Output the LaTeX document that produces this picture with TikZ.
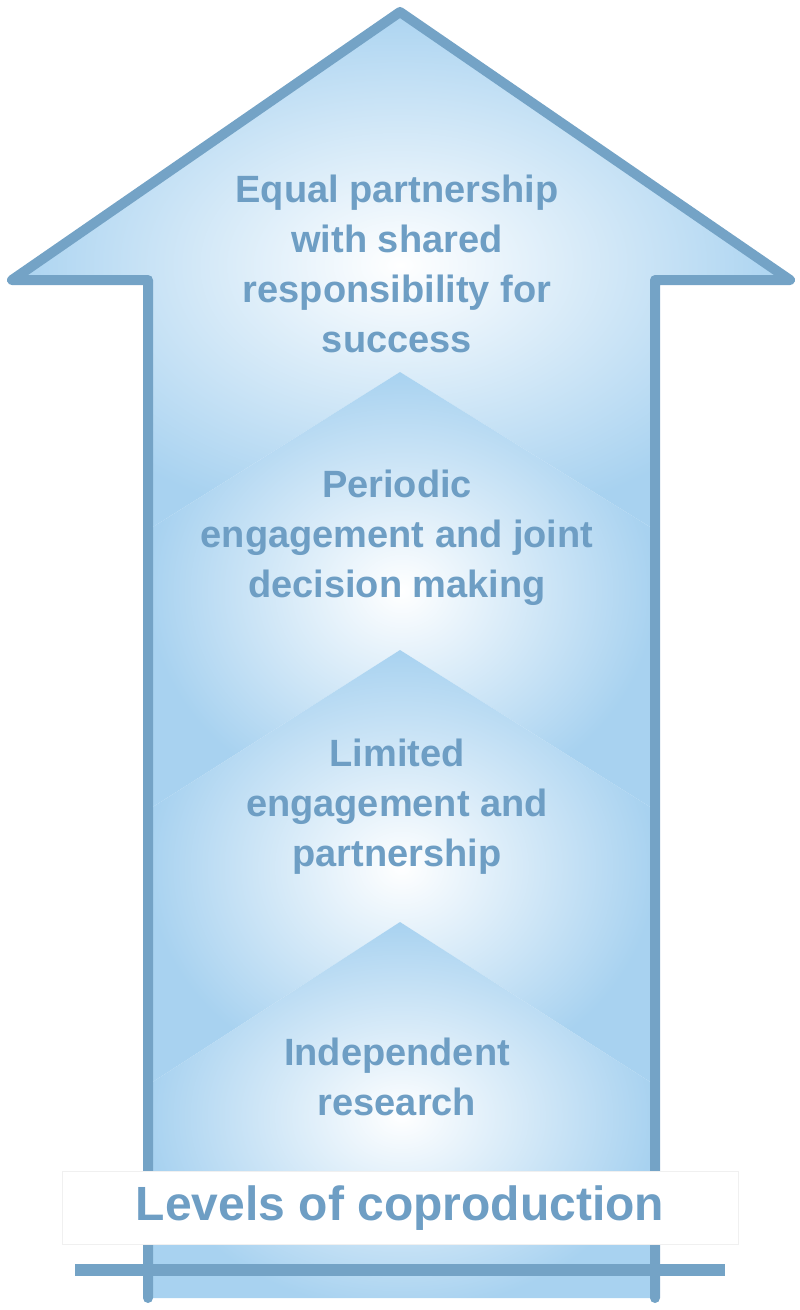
\documentclass[tikz,border=0pt]{standalone}
\usepackage{fontspec}
\setmainfont{Liberation Sans}
\usetikzlibrary{positioning}
\definecolor{rim}{RGB}{116,163,198}
\definecolor{ink}{RGB}{110,158,196}
\definecolor{sky}{RGB}{168,210,240}
\tikzset{
  level/.style={align=center, text=ink, font=\bfseries\fontsize{38}{50}\selectfont, inner sep=0pt},
  band/.style={inner color=white, outer color=sky},
  rimline/.style={draw=rim, line width=10pt, line join=round, line cap=round}
}
\begin{document}
\begin{tikzpicture}[x=1pt,y=-1pt]
\useasboundingbox (0,0) rectangle (800,1310);

%arrow body with banded shading
\begin{scope}
\path[clip] (400,12) -- (790,280) -- (655,280) -- (655,1298) -- (148,1298) -- (148,280) -- (12,280) -- cycle;
\shade[band] (0,0) -- (800,0) -- (800,530) -- (655,530) -- (400,372) -- (148,530) -- (0,530) -- cycle;
\shade[band] (148,530) -- (400,372) -- (655,530) -- (655,810) -- (400,650) -- (148,810) -- cycle;
\shade[band] (148,810) -- (400,650) -- (655,810) -- (655,1085) -- (400,922) -- (148,1085) -- cycle;
\shade[band] (148,1085) -- (400,922) -- (655,1085) -- (655,1310) -- (148,1310) -- cycle;
\end{scope}
\draw[rimline] (148,1298) -- (148,280) -- (12,280) -- (400,12) -- (790,280) -- (655,280) -- (655,1298);

%levels
\node[level] (top) at (397,264) {Equal partnership\\with shared\\responsibility for\\success};
\node[level] (periodic) at (397,538) {Periodic\\engagement and joint\\decision making};
\node[level] (limited) at (397,807) {Limited\\engagement and\\partnership};
\node[level] (indep) at (397,1077) {Independent\\research};

%caption
\node[fill=white, draw=black!6, minimum width=676pt, minimum height=73pt, inner sep=0pt] (box) at (400,1208) {};
\node[level, font=\bfseries\fontsize{48}{60}\selectfont] (caption) at (box) {Levels of coproduction};
\draw[draw=rim, line width=12pt] (75,1270) -- (725,1270);
\end{tikzpicture}
\end{document}
